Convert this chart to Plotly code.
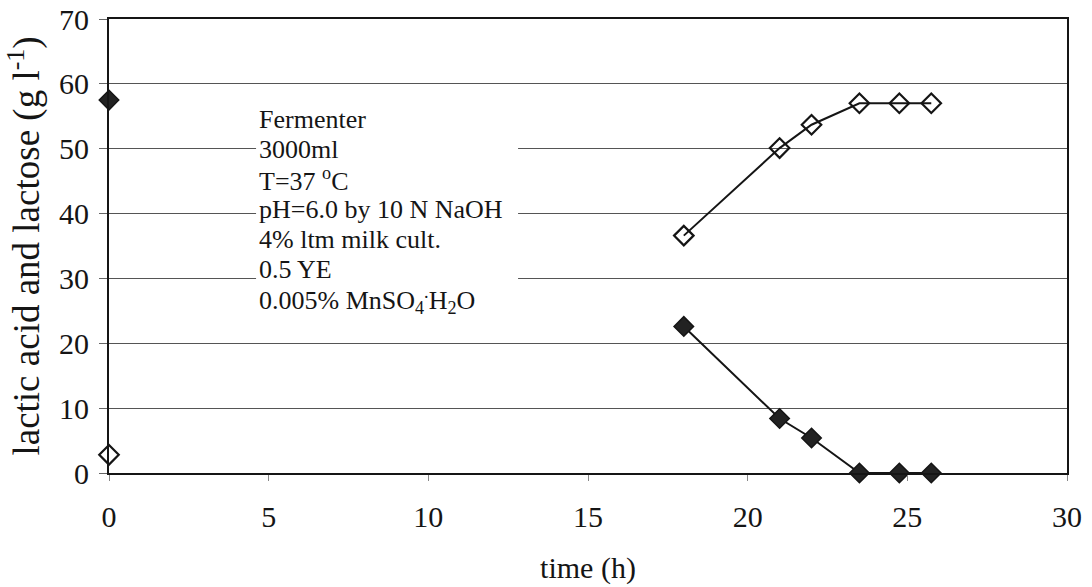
import plotly.graph_objects as go

# Fermentation time course: lactic acid (open) and lactose (filled)
time_h = [0, None, 18, 21, 22, 23.5, 24.75, 25.75]
lactic_acid = [2.8, None, 36.6, 50.1, 53.7, 57.0, 57.0, 57.0]
lactose = [57.5, None, 22.6, 8.4, 5.4, 0.0, 0.0, 0.0]

x_ticks = [0, 5, 10, 15, 20, 25, 30]
y_ticks = [0, 10, 20, 30, 40, 50, 60, 70]

conditions = [
    "Fermenter",
    "3000ml",
    "T=37 <sup>o</sup>C",
    "pH=6.0 by 10 N NaOH",
    "4% ltm milk cult.",
    "0.5 YE",
    "0.005% MnSO<sub>4</sub><sup>.</sup>H<sub>2</sub>O",
]

FONT = "Liberation Serif, Times New Roman, serif"
INK = "#151515"

fig = go.Figure()

fig.add_trace(go.Scatter(
    x=time_h, y=lactic_acid, mode="lines+markers", connectgaps=False,
    line=dict(color=INK, width=2),
    marker=dict(symbol="diamond-open", size=15, color=INK, line=dict(width=2.2, color=INK)),
    cliponaxis=False, showlegend=False, name="lactic acid",
))
fig.add_trace(go.Scatter(
    x=time_h, y=lactose, mode="lines+markers", connectgaps=False,
    line=dict(color=INK, width=2),
    marker=dict(symbol="diamond", size=15, color="#222222", line=dict(width=1.5, color=INK)),
    cliponaxis=False, showlegend=False, name="lactose",
))

# white panel behind the conditions block (interrupts the gridlines)
fig.add_shape(
    type="rect", xref="paper", yref="paper",
    x0=0.1535, x1=0.427, y0=0.34, y1=0.83,
    fillcolor="white", line=dict(width=0), layer="above",
)

# conditions block, one line per annotation
line_top = 0.779    # paper y of first line centre
line_step = 0.0663  # paper spacing between lines
for i, txt in enumerate(conditions):
    fig.add_annotation(
        xref="paper", yref="paper", x=0.155, y=line_top - i * line_step,
        xanchor="left", yanchor="middle", align="left",
        text=txt, showarrow=False,
        font=dict(family=FONT, size=26, color=INK),
    )

fig.update_layout(
    width=1092, height=587,
    margin=dict(l=109, r=25, t=19, b=114),
    paper_bgcolor="white", plot_bgcolor="white",
    font=dict(family=FONT, color=INK),
    xaxis=dict(
        range=[0, 30], tickvals=x_ticks, ticktext=[str(v) for v in x_ticks],
        showgrid=False, zeroline=False, automargin=False,
        showline=True, mirror=True, linecolor=INK, linewidth=2,
        ticks="outside", ticklen=6, tickcolor="#888888", tickwidth=1,
        ticklabelstandoff=10,
        tickfont=dict(family=FONT, size=30, color=INK),
        title=dict(text="time (h)", font=dict(family=FONT, size=30, color=INK), standoff=25),
    ),
    yaxis=dict(
        range=[0, 70], tickvals=y_ticks, ticktext=[str(v) for v in y_ticks],
        showgrid=True, gridcolor="#555555", gridwidth=1, zeroline=False, automargin=False,
        showline=True, mirror=True, linecolor=INK, linewidth=2,
        ticks="outside", ticklen=8, tickcolor="#666666", tickwidth=1,
        ticklabelstandoff=4,
        tickfont=dict(family=FONT, size=30, color=INK),
        title=dict(text="lactic acid and lactose (g l<sup>-1</sup>)",
                   font=dict(family=FONT, size=37, color=INK), standoff=8),
    ),
)

fig.write_html("out.html")
